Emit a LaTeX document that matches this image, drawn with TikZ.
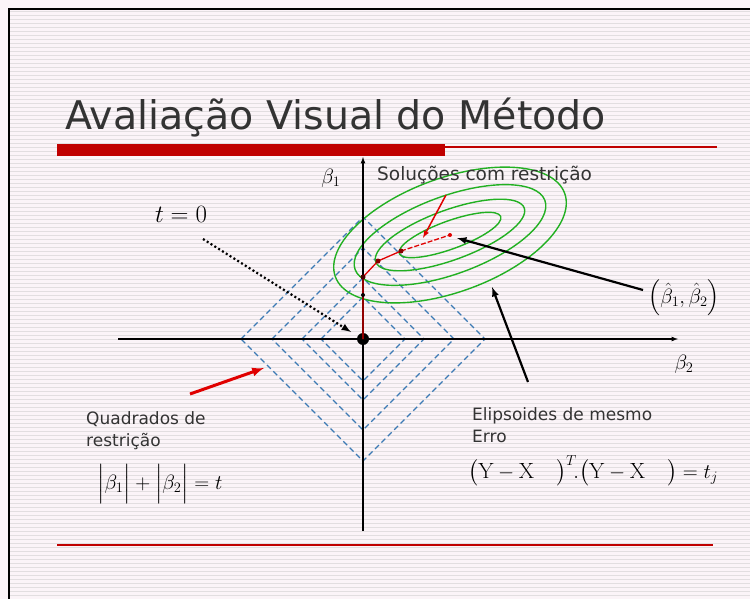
\documentclass[tikz,border=0pt]{standalone}
\usepackage{amsmath,amssymb}
\usepackage{xcolor}
\usepackage{fontspec}
\usetikzlibrary{arrows,positioning,calc}

\newfontfamily\slidefont{DejaVu Sans}
\definecolor{slidebg}{HTML}{FBF4F8}
\definecolor{stripegray}{HTML}{E2DEE0}
\definecolor{barred}{HTML}{C00000}
\definecolor{sqblue}{HTML}{3C7AB4}
\definecolor{elgreen}{HTML}{22B022}
\definecolor{pathred}{HTML}{E00000}
\definecolor{textgray}{HTML}{333333}

\begin{document}
\begin{tikzpicture}[
    x=1pt, y=-1pt,
    every node/.style={inner sep=0pt},
    slidetext/.style={font=\slidefont\fontsize{17}{22}\selectfont, text=textgray, align=left},
    mathtext/.style={font=\fontsize{20}{24}\selectfont},
    sqline/.style={sqblue, line width=1.1pt, dash pattern=on 5.5pt off 3.5pt},
    elline/.style={elgreen, line width=1.4pt},
    axisline/.style={line width=1.2pt, -latex},
    pointer/.style={line width=2.2pt, -latex},
    reddot/.style={circle, fill=pathred!60!black, minimum size=5pt}
]
    % Background
    \useasboundingbox (0,0) rectangle (750,599);
    \fill[slidebg] (0,0) rectangle (750,599);
    \foreach \y in {11,15,...,599}
        \draw[stripegray, line width=0.6pt] (9,\y) -- (750,\y);
    \draw[line width=1.5pt] (9,599) -- (9,9) -- (750,9);

    % Title and rules
    \node[anchor=base west, font=\slidefont\fontsize{39.5}{44}\selectfont, text=textgray] (title) at (65,130) {Avaliação Visual do Método};
    \fill[barred] (57,144) rectangle (445,156);
    \draw[barred, line width=1.3pt] (445,147) -- (717,147);
    \draw[barred, line width=1.3pt] (57,545) -- (713,545);

    % Points
    \coordinate (O) at (363,339);
    \coordinate (bhat) at (450,235);

    % Constraint squares
    \begin{scope}[shift={(O)}]
        \foreach \r in {42,61,91,122}
            \draw[sqline] (-\r,0) -- (0,-\r) -- (\r,0) -- (0,\r) -- cycle;
    \end{scope}

    % Error ellipses
    \foreach \a/\b in {122/57,101/39,79/25,54/14}
        \draw[elline, rotate around={20:(bhat)}] (bhat) ellipse [x radius=\a, y radius=\b];

    % Axes
    \coordinate (ybot) at (363,531);
    \coordinate (ytop) at (363,157);
    \coordinate (xleft) at (118,339);
    \coordinate (xright) at (678,339);
    \draw[axisline] (ybot) -- (ytop);
    \draw[axisline] (xleft) -- (xright);
    \node[mathtext] (b1) at (331,178) {$\beta_1$};
    \node[mathtext] (b2) at (684,364) {$\beta_2$};
    \fill (O) circle (6);

    % Constrained solution path
    \coordinate (p1) at (363,295);
    \coordinate (p2) at (363,277);
    \coordinate (p3) at (378,261);
    \coordinate (p4) at (401,251);
    \draw[pathred, line width=1.3pt] (O) -- (p2) -- (p3) -- (p4);
    \draw[pathred, line width=1.3pt, dash pattern=on 5pt off 2pt] (p4) -- (bhat);
    \node[reddot, fill=black, minimum size=4pt] (d1) at (p1) {};
    \node[reddot, fill=black!70!red] (d2) at (p2) {};
    \node[reddot] (d3) at (p3) {};
    \node[reddot] (d4) at (p4) {};
    \node[reddot, fill=pathred, minimum size=4pt] (d5) at (bhat) {};

    % Labels
    \node[slidetext, font=\slidefont\fontsize{18.5}{22}\selectfont, anchor=base west] (sol) at (377,180) {Soluções com restrição};
    \node[mathtext, font=\fontsize{24}{28}\selectfont] (tzero) at (181,214) {$t=0$};
    \node[mathtext] (bhatlbl) at (684,298) {$\left(\hat\beta_1,\hat\beta_2\right)$};
    \node[slidetext, anchor=base west] (quad) at (86,446) {Quadrados de\\restrição};
    \node[slidetext, anchor=base west] (elip) at (472,442) {Elipsoides de mesmo\\Erro};
    \node[mathtext, font=\fontsize{22}{26}\selectfont, anchor=base west] (lasso) at (97,489) {$\Bigl|\beta_1\Bigr|+\Bigl|\beta_2\Bigr|=t$};
    \node[mathtext, font=\fontsize{22}{26}\selectfont, anchor=base west] (rss) at (468,478) {$\bigl(\mathrm{Y}-\mathrm{X}\quad\bigr)^{T}\!.\bigl(\mathrm{Y}-\mathrm{X}\quad\bigr)=t_j$};

    % Pointers
    \coordinate (solstart) at (446,195);
    \coordinate (soltip) at (423,238);
    \coordinate (tzstart) at (203,239);
    \coordinate (tztip) at (351,332);
    \coordinate (quadstart) at (190,394);
    \coordinate (quadtip) at (264,368);
    \coordinate (bhstart) at (643,290);
    \coordinate (bhtip) at (457,238);
    \coordinate (elstart) at (528,382);
    \coordinate (eltip) at (492,287);
    \draw[pathred, line width=1.5pt, -latex] (solstart) -- (soltip);
    \draw[pointer, dash pattern=on 2pt off 2.5pt] (tzstart) -- (tztip);
    \draw[pathred, line width=3pt, -latex] (quadstart) -- (quadtip);
    \draw[pointer] (bhstart) -- (bhtip);
    \draw[pointer] (elstart) -- (eltip);
\end{tikzpicture}
\end{document}
